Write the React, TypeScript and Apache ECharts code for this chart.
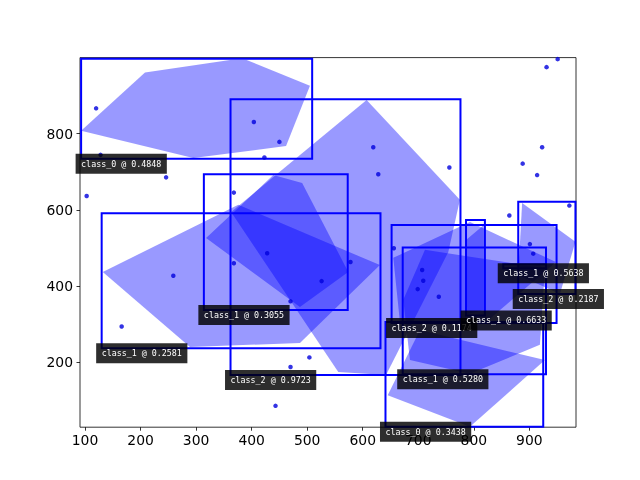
import React, { useEffect, useRef } from "react";
import * as echarts from "echarts";

// Axis extents and tick positions
const xRange = [91, 984];
const yRange = [30, 999];
const xTicks = [100, 200, 300, 400, 500, 600, 700, 800, 900];
const yTicks = [200, 400, 600, 800];

// Detections: class, score, box [x1, y1, x2, y2] and mask polygon (data units)
const classNames = [
  "class_0", "class_1", "class_1", "class_2", "class_2",
  "class_1", "class_1", "class_0", "class_1", "class_2",
];
const scores = [0.4848, 0.2581, 0.3055, 0.9723, 0.1174, 0.6633, 0.528, 0.3438, 0.5638, 0.2187];
const boxes = [
  [93, 734, 509, 996],
  [130, 237, 632, 591],
  [314, 337, 573, 693],
  [362, 167, 776, 890],
  [652, 303, 949, 560],
  [786, 323, 820, 573],
  [672, 169, 930, 501],
  [641, 31, 925, 306],
  [853, 447, 930, 457],
  [880, 379, 983, 621],
];
const masks = [
  [[93, 807], [208, 960], [361, 993], [391, 993], [505, 925], [462, 767], [295, 736]],
  [[132, 437], [376, 613], [631, 455], [487, 251], [289, 240]],
  [[318, 526], [439, 691], [491, 670], [574, 437], [487, 345]],
  [[607, 888], [775, 626], [754, 489], [642, 167], [556, 175], [363, 594]],
  [[655, 474], [793, 568], [948, 463], [820, 303], [667, 306]],
  [[786, 521], [818, 560], [818, 337], [788, 327]],
  [[673, 364], [712, 495], [928, 447], [919, 246], [793, 170], [685, 206]],
  [[645, 114], [703, 285], [928, 206], [793, 31]],
  [[858, 449], [922, 451], [918, 456]],
  [[887, 618], [983, 516], [955, 379], [880, 429]],
];

// Scattered key points
const points = [
  [120, 866], [128, 744], [103, 636], [246, 685], [259, 427], [166, 294],
  [404, 830], [450, 778], [423, 737], [368, 645], [619, 764], [628, 693],
  [756, 711], [931, 974], [951, 995], [923, 764], [888, 721], [914, 691],
  [972, 611], [864, 585], [901, 510], [907, 485], [656, 499], [707, 442],
  [709, 414], [699, 392], [737, 372], [368, 460], [428, 486], [526, 413],
  [470, 360], [504, 213], [470, 188], [443, 86], [578, 463],
];

export default function App() {
  const ref = useRef<HTMLDivElement>(null);

  useEffect(() => {
    const chart = echarts.init(ref.current!, null, { renderer: "svg" });
    const tickStyle = { color: "#000", width: 0.8 };
    const tickLabel = { color: "#000", fontFamily: "DejaVu Sans", fontSize: 13.9 };

    chart.setOption({
      animation: false,
      grid: {
        left: 80, top: 57.6, width: 496, height: 369.6,
        show: true, borderColor: "#000", borderWidth: 0.8,
      },
      xAxis: {
        type: "value", min: xRange[0], max: xRange[1],
        axisLine: { show: false },
        splitLine: { show: false },
        axisTick: { show: true, customValues: xTicks, length: 3.5, lineStyle: tickStyle },
        axisLabel: { customValues: xTicks, margin: 6, ...tickLabel },
      },
      yAxis: {
        type: "value", min: yRange[0], max: yRange[1],
        axisLine: { show: false },
        splitLine: { show: false },
        axisTick: { show: true, customValues: yTicks, length: 3.5, lineStyle: tickStyle },
        axisLabel: { customValues: yTicks, margin: 7, ...tickLabel },
      },
      series: [
        {
          type: "custom",
          z: 1,
          clip: false,
          data: masks.map((_, i) => [i]),
          encode: { x: -1, y: -1 },
          renderItem: (params: any, api: any) => ({
            type: "polygon",
            shape: { points: masks[params.dataIndex].map((p) => api.coord(p)) },
            style: { fill: "rgba(0,0,255,0.4)" },
          }),
        },
        {
          type: "custom",
          z: 2,
          clip: false,
          data: boxes,
          encode: { x: [0, 2], y: [1, 3] },
          renderItem: (params: any, api: any) => {
            const b = boxes[params.dataIndex];
            const p1 = api.coord([b[0], b[3]]);
            const p2 = api.coord([b[2], b[1]]);
            return {
              type: "rect",
              shape: { x: p1[0], y: p1[1], width: p2[0] - p1[0], height: p2[1] - p1[1] },
              style: { fill: "none", stroke: "#0000ff", lineWidth: 2 },
            };
          },
        },
        {
          type: "scatter",
          z: 3,
          data: points,
          symbol: "circle",
          symbolSize: 4.5,
          itemStyle: { color: "#0000dd" },
        },
        {
          type: "custom",
          z: 4,
          clip: false,
          data: boxes.map((b) => [b[0], b[1]]),
          encode: { x: 0, y: 1 },
          renderItem: (params: any, api: any) => {
            const i = params.dataIndex;
            const p = api.coord([boxes[i][0], boxes[i][1]]);
            return {
              type: "text",
              x: p[0] - 5.5,
              y: p[1] - 5,
              style: {
                text: `${classNames[i]} @ ${scores[i].toFixed(4)}`,
                fill: "#ffffff",
                fontFamily: "DejaVu Sans Mono",
                fontSize: 8.33,
                lineHeight: 10,
                align: "left",
                verticalAlign: "top",
                backgroundColor: "rgba(0,0,0,0.82)",
                padding: [5, 5.5, 5, 5.5],
              },
            };
          },
        },
      ],
    });

    return () => chart.dispose();
  }, []);

  return (
    <div
      ref={ref}
      style={{ position: "fixed", left: 0, top: 0, width: 640, height: 480 }}
    />
  );
}
